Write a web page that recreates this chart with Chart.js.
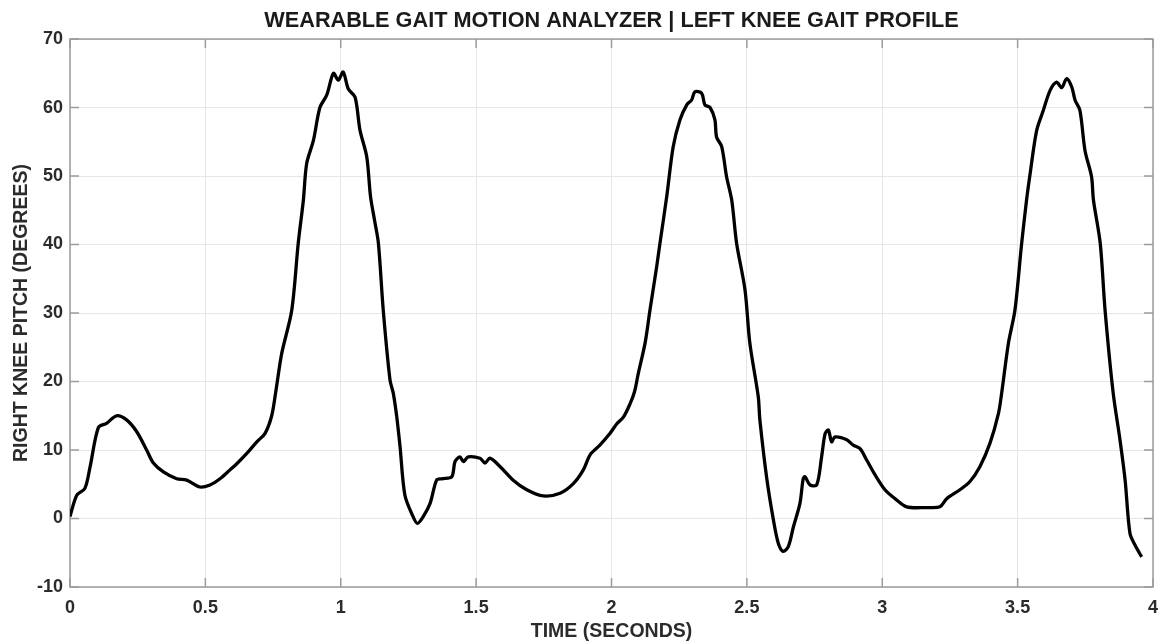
<!DOCTYPE html>
<html>
<head>
<meta charset="utf-8">
<script src="https://cdn.jsdelivr.net/npm/chart.js@4/dist/chart.umd.min.js"></script>
<style>
  html, body { margin: 0; padding: 0; background: #fff; }
  #wrap { width: 1162px; height: 644px; }
</style>
</head>
<body>
<div id="wrap"><canvas id="gaitChart"></canvas></div>
<script>
// time (s) and knee pitch (deg)
const timeSec = [
  0.000, 0.025, 0.055, 0.074, 0.105, 0.135, 0.172, 0.209, 0.246, 0.283,
  0.308, 0.345, 0.394, 0.431, 0.480, 0.517, 0.554, 0.591, 0.616, 0.653,
  0.690, 0.720, 0.745, 0.760, 0.782, 0.819, 0.843, 0.862, 0.874, 0.899,
  0.923, 0.948, 0.973, 0.991, 1.009, 1.028, 1.053, 1.071, 1.096, 1.110,
  1.125, 1.139, 1.157, 1.182, 1.194, 1.207, 1.219, 1.237, 1.268, 1.283,
  1.305, 1.330, 1.354, 1.373, 1.410, 1.422, 1.440, 1.453, 1.471, 1.514,
  1.533, 1.551, 1.588, 1.637, 1.687, 1.748, 1.810, 1.859, 1.896, 1.921,
  1.957, 1.994, 2.019, 2.044, 2.068, 2.085, 2.099, 2.124, 2.142, 2.167,
  2.179, 2.204, 2.228, 2.253, 2.278, 2.296, 2.308, 2.333, 2.345, 2.364,
  2.382, 2.388, 2.407, 2.425, 2.444, 2.462, 2.493, 2.511, 2.542, 2.548,
  2.573, 2.598, 2.616, 2.634, 2.653, 2.672, 2.696, 2.708, 2.715, 2.733,
  2.758, 2.776, 2.789, 2.801, 2.813, 2.825, 2.869, 2.893, 2.918, 2.943,
  2.973, 3.010, 3.047, 3.090, 3.164, 3.213, 3.238, 3.287, 3.324, 3.361,
  3.398, 3.429, 3.441, 3.466, 3.490, 3.515, 3.533, 3.546, 3.570, 3.595,
  3.620, 3.644, 3.663, 3.681, 3.700, 3.712, 3.730, 3.749, 3.773, 3.780,
  3.805, 3.823, 3.853, 3.878, 3.897, 3.915, 3.934, 3.958
];
const pitchDeg = [
  0.3, 3.4, 4.4, 7.5, 13.3, 13.9, 15.0, 14.4, 12.7, 10.0,
  8.1, 6.8, 5.8, 5.6, 4.6, 4.9, 5.8, 7.1, 8.0, 9.5,
  11.2, 12.4, 15.0, 18.5, 24.1, 30.4, 40.2, 46.5, 51.8, 55.2,
  60.0, 61.8, 65.0, 64.0, 65.2, 62.7, 61.5, 56.7, 52.8, 47.0,
  43.5, 40.2, 30.4, 20.2, 18.3, 14.8, 10.5, 3.4, 0.2, -0.7,
  0.3, 2.2, 5.6, 5.8, 6.1, 8.3, 9.0, 8.3, 9.0, 8.8,
  8.1, 8.8, 7.6, 5.6, 4.2, 3.3, 3.7, 5.1, 7.1, 9.3,
  10.7, 12.4, 13.8, 14.8, 16.7, 18.5, 21.2, 25.6, 30.4, 36.8,
  40.2, 47.0, 54.3, 58.2, 60.4, 61.1, 62.3, 62.1, 60.4, 60.0,
  58.2, 55.7, 54.3, 49.9, 46.5, 40.2, 33.4, 25.6, 17.8, 14.4,
  6.0, -0.2, -3.6, -4.8, -4.1, -1.2, 2.2, 5.8, 6.1, 4.9,
  4.9, 9.0, 12.4, 12.9, 11.2, 11.9, 11.5, 10.7, 10.2, 8.5,
  6.4, 4.2, 2.9, 1.7, 1.6, 1.7, 2.9, 4.2, 5.4, 7.6,
  11.0, 15.3, 18.3, 25.6, 30.4, 40.2, 46.5, 50.3, 56.6, 59.6,
  62.5, 63.7, 62.9, 64.2, 63.0, 61.1, 59.6, 53.7, 49.9, 46.5,
  40.2, 30.4, 18.3, 11.5, 5.6, -2.2, -3.9, -5.6
];

// axis setup
const xTicks = [0, 0.5, 1, 1.5, 2, 2.5, 3, 3.5, 4];
const yTicks = [-10, 0, 10, 20, 30, 40, 50, 60, 70];

const points = timeSec.map((t, i) => ({ x: t, y: pitchDeg[i] }));
const axisGray = '#9c9c9c';
const fam = 'Liberation Sans, Arial, sans-serif';
const tickFont = { family: fam, size: 18, weight: 'bold' };
const labelFont = { family: fam, size: 19.5, weight: 'bold' };

// matlab-ish box with inward ticks
const boxPlugin = {
  id: 'box',
  beforeDatasetsDraw(chart) {
    const { ctx, chartArea: a, scales: { x, y } } = chart;
    ctx.save();
    ctx.strokeStyle = axisGray;
    ctx.lineWidth = 1.5;
    ctx.strokeRect(a.left, a.top, a.right - a.left, a.bottom - a.top);
    ctx.beginPath();
    xTicks.forEach(v => {
      const px = x.getPixelForValue(v);
      ctx.moveTo(px, a.bottom); ctx.lineTo(px, a.bottom - 9);
      ctx.moveTo(px, a.top); ctx.lineTo(px, a.top + 9);
    });
    yTicks.forEach(v => {
      const py = y.getPixelForValue(v);
      ctx.moveTo(a.left, py); ctx.lineTo(a.left + 9, py);
      ctx.moveTo(a.right, py); ctx.lineTo(a.right - 9, py);
    });
    ctx.stroke();
    ctx.restore();
  }
};

new Chart(document.getElementById('gaitChart'), {
  type: 'line',
  data: {
    datasets: [{
      data: points,
      borderColor: '#000',
      borderWidth: 3.3,
      pointRadius: 0,
      tension: 0.3,
      fill: false
    }]
  },
  options: {
    responsive: true,
    maintainAspectRatio: false,
    animation: false,
    layout: { padding: { left: 0, right: 9, top: 0, bottom: 0 } },
    plugins: {
      legend: { display: false },
      tooltip: { enabled: false },
      title: {
        display: true,
        fullSize: false,
        text: 'WEARABLE GAIT MOTION ANALYZER | LEFT KNEE GAIT PROFILE',
        color: '#1a1a1a',
        font: { family: fam, size: 21.7, weight: 'bold' },
        padding: { top: 8, bottom: 5 }
      }
    },
    scales: {
      x: {
        type: 'linear',
        min: 0, max: 4,
        afterBuildTicks: s => { s.ticks = xTicks.map(v => ({ value: v })); },
        afterFit: s => { s.height = 57; s.paddingRight = 0; },
        grid: { color: '#e6e6e6', lineWidth: 1, drawTicks: false },
        border: { display: false },
        ticks: { color: '#2b2b2b', font: tickFont, padding: 10, callback: v => String(v) },
        title: {
          display: true,
          text: 'TIME (SECONDS)',
          color: '#2b2b2b',
          font: labelFont,
          padding: { top: 0, bottom: 1 }
        }
      },
      y: {
        min: -10, max: 70,
        afterBuildTicks: s => { s.ticks = yTicks.map(v => ({ value: v })); },
        afterFit: s => { s.width = 70; },
        grid: { color: '#e6e6e6', lineWidth: 1, drawTicks: false },
        border: { display: false },
        ticks: { color: '#2b2b2b', font: tickFont, padding: 7, callback: v => String(v) },
        title: {
          display: true,
          text: 'RIGHT KNEE PITCH (DEGREES)',
          color: '#2b2b2b',
          font: labelFont,
          padding: { top: 10, bottom: 0 }
        }
      }
    }
  },
  plugins: [boxPlugin]
});
</script>
</body>
</html>
